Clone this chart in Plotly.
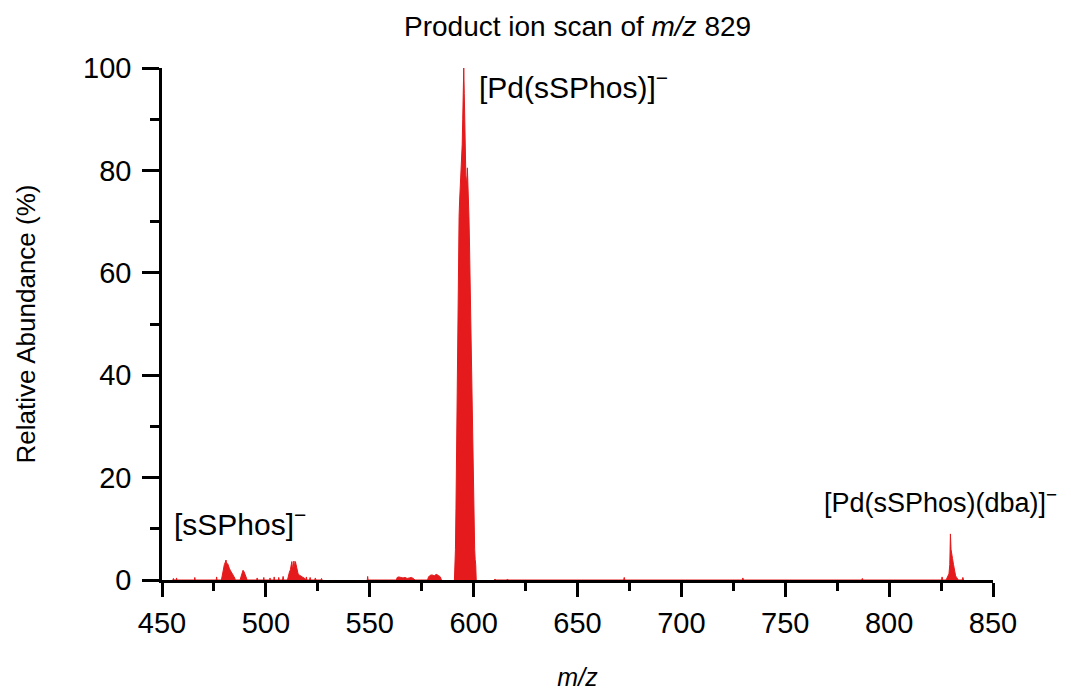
import plotly.graph_objects as go

# ---- data (m/z, relative abundance %) ----
# low-mass noise and [sSPhos]- region
mz_low = [455.2, 455.5, 455.8, 456.8, 457.0, 457.2, 465.6, 465.8, 466.0, 476.1, 476.3, 476.5,
          478.6, 479.0, 479.5, 480.0, 480.5, 480.8, 481.0, 481.3, 481.6, 482.0, 482.5, 483.0,
          483.5, 484.0, 484.5, 485.0, 485.3,
          487.6, 488.0, 488.5, 489.0, 489.5, 490.0, 490.5, 491.0,
          495.6, 495.8, 496.0, 498.8, 499.0, 499.2, 501.8, 502.0, 502.2, 503.8, 504.0, 504.2,
          506.0, 506.2, 506.4, 508.0, 508.3, 508.6,
          510.4, 510.8, 511.3, 511.8, 512.2, 512.5, 512.8, 513.2, 513.5, 513.8, 514.2, 514.8,
          515.1, 515.5, 516.0, 516.5, 517.0, 517.5, 518.0, 518.5, 519.2, 519.5, 519.8,
          521.0, 521.3, 521.6, 523.5, 523.8, 524.1, 526.5, 526.8, 527.1]
ab_low = [0, 0.3, 0, 0, 0.4, 0, 0, 0.5, 0, 0, 0.6, 0,
          0, 1.0, 2.4, 3.0, 3.5, 3.9, 3.6, 3.0, 3.2, 2.6, 2.2, 1.8,
          1.5, 1.1, 0.8, 0.4, 0,
          0, 0.6, 1.3, 1.9, 1.6, 0.9, 0.3, 0,
          0, 0.4, 0, 0, 0.5, 0, 0, 0.4, 0, 0, 0.6, 0,
          0, 0.5, 0, 0, 0.7, 0,
          0, 0.8, 1.5, 2.0, 2.8, 3.6, 2.4, 2.6, 3.7, 2.5, 3.6, 2.2,
          1.6, 1.2, 1.0, 0.8, 0.7, 0.6, 0.5, 0.4, 0, 0.6, 0,
          0, 0.5, 0, 0, 0.4, 0, 0, 0.3, 0]

# mid region noise (549 and 560-586)
mz_mid = [548.8, 549.0, 549.2,
          562.8, 563.2, 564.0, 565.0, 566.0, 567.0, 568.0, 569.0, 570.0, 571.0, 571.8,
          577.8, 578.3, 579.0, 580.0, 581.0, 582.0, 583.0, 584.0, 584.5]
ab_mid = [0, 0.7, 0,
          0, 0.5, 0.6, 0.5, 0.4, 0.5, 0.3, 0.4, 0.5, 0.3, 0,
          0, 0.6, 0.9, 1.0, 0.8, 1.1, 0.9, 0.6, 0]

# [Pd(sSPhos)]- main cluster
mz_main = [590.75, 591.0, 591.25, 591.5, 591.75, 592.0, 592.25, 592.5, 592.75, 593.0,
           593.25, 593.5, 593.75, 594.0, 594.25, 594.5, 594.75, 595.0, 595.25, 595.5,
           595.75, 596.0, 596.25, 596.5, 596.75, 597.0, 597.25, 597.5, 597.75, 598.0,
           598.25, 598.5, 598.75, 599.0, 599.25, 599.5, 599.75, 600.0, 600.25, 600.5,
           600.75, 601.0, 601.25]
ab_main = [0, 2, 6, 14, 26, 40, 52, 61, 67, 71,
           74, 76, 78, 80, 82, 85, 90, 95, 100, 95,
           86, 81, 79, 78, 78, 80.5, 78, 75, 71, 66,
           60, 53, 46, 39, 31, 24, 17, 12, 8, 6,
           4, 3, 0]

# high-mass noise and [Pd(sSPhos)(dba)]- cluster
mz_high = [610.0, 610.3, 610.6, 616.0, 616.3, 616.6, 672.2, 672.5, 672.8, 729.3, 729.6, 729.9,
           786.8, 787.1, 787.4, 825.2, 825.5, 825.8,
           827.4, 827.8, 828.3, 828.8, 829.2, 829.5, 829.8, 830.1, 830.5, 831.0, 831.5, 832.0,
           832.5, 833.0, 833.3, 835.2, 835.5, 835.8]
ab_high = [0, 0.2, 0, 0, 0.2, 0, 0, 0.5, 0, 0, 0.4, 0,
           0, 0.3, 0, 0, 0.6, 0,
           0, 0.4, 0.8, 1.2, 3.0, 9.0, 6.0, 4.6, 4.2, 3.0, 1.6, 0.8,
           0.5, 0.3, 0, 0, 0.5, 0]

x_ticks = [450, 500, 550, 600, 650, 700, 750, 800, 850]
y_ticks = [0, 20, 40, 60, 80, 100]

# (m/z position, abundance position, text, font size)
labels = [
    (454.8, 11.3, "[sSPhos]<sup>−</sup>", 30),
    (601.8, 96.7, "[Pd(sSPhos)]<sup>−</sup>", 30),
    (767.5, 15.4, "[Pd(sSPhos)(dba)]<sup>−</sup>", 27),
]

RED = "rgb(228,26,28)"
FONT = "Arial, Liberation Sans, sans-serif"

fig = go.Figure()
for xs, ys in [(mz_low, ab_low), (mz_mid, ab_mid), (mz_main, ab_main), (mz_high, ab_high)]:
    fig.add_trace(go.Scatter(x=xs, y=ys, mode="lines", fill="tozeroy",
                             line=dict(color=RED, width=1), fillcolor=RED,
                             showlegend=False, hoverinfo="x+y"))

for lx, ly, txt, fs in labels:
    fig.add_annotation(x=lx, y=ly, xref="x", yref="y", text=txt, showarrow=False,
                       xanchor="left", yanchor="middle",
                       font=dict(family=FONT, size=fs, color="black"))

axis_common = dict(showline=True, linewidth=2.5, linecolor="black", showgrid=False,
                   zeroline=False, ticks="outside", tickwidth=2.5, tickcolor="black",
                   automargin=False,
                   tickfont=dict(family=FONT, size=29, color="black"))

fig.update_xaxes(range=[450, 850], tickvals=x_ticks, ticklen=14, ticklabelstandoff=1,
                 minor=dict(dtick=25, tick0=450, ticklen=8, tickwidth=2.5, tickcolor="black", ticks="outside"),
                 title=dict(text="<i>m/z</i>", font=dict(family=FONT, size=25, color="black"), standoff=42),
                 **axis_common)
fig.update_yaxes(range=[0, 100], tickvals=y_ticks, ticklen=17, ticklabelstandoff=5,
                 minor=dict(dtick=10, tick0=0, ticklen=9, tickwidth=2.5, tickcolor="black", ticks="outside"),
                 title=dict(text="Relative Abundance (%)", font=dict(family=FONT, size=26, color="black"), standoff=40),
                 **axis_common)

fig.update_layout(
    width=1071, height=691,
    margin=dict(l=162, r=78, t=68, b=111, autoexpand=False),
    plot_bgcolor="white", paper_bgcolor="white",
    title=dict(text="Product ion scan of <i>m/z</i> 829", x=0.5393, xanchor="center",
               y=0.962, yanchor="middle", yref="container",
               font=dict(family=FONT, size=28, color="black")),
)

fig.write_html("out.html", config={"displayModeBar": False},
               post_script="document.body.style.margin='0px';")
